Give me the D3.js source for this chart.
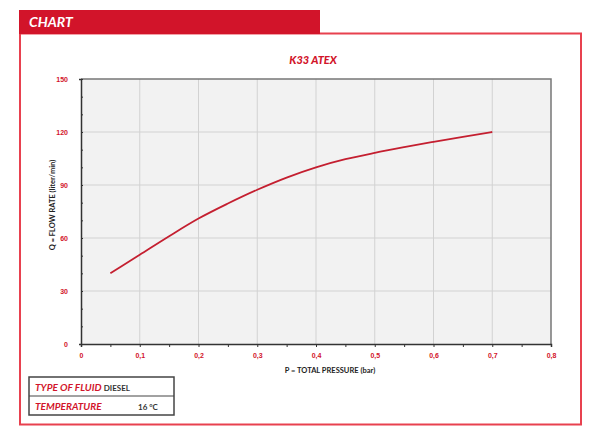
<!DOCTYPE html>
<html>
<head>
<meta charset="utf-8">
<script src="https://cdn.jsdelivr.net/npm/d3@7"></script>
<style>
  body { margin: 0; background: #fff; }
  svg { display: block; font-family: Lato, "Open Sans", sans-serif; }
</style>
</head>
<body>
<div id="chart"></div>
<script>
// pump curve K33 ATEX, pressure (bar) vs flow rate (liter/min)
var pressure = [0.05, 0.1, 0.15, 0.2, 0.25, 0.3, 0.35, 0.4, 0.45, 0.5, 0.55, 0.6, 0.65, 0.7];
var flow = [40, 50.5, 61, 71, 79.5, 87.3, 94.2, 100, 104.6, 108.2, 111.4, 114.4, 117.3, 120];

var xTicks = [0, 0.1, 0.2, 0.3, 0.4, 0.5, 0.6, 0.7, 0.8];
var yTicks = [0, 30, 60, 90, 120, 150];

var red = "#d2142a";

var svg = d3
  .select("#chart")
  .append("svg")
  .attr("width", 590)
  .attr("height", 438);

// outer frame + header tab
svg
  .append("rect")
  .attr("x", 20)
  .attr("y", 33.5)
  .attr("width", 561)
  .attr("height", 391)
  .attr("fill", "none")
  .attr("stroke", "#e8414f")
  .attr("stroke-width", 2);

svg
  .append("rect")
  .attr("x", 19)
  .attr("y", 10)
  .attr("width", 301)
  .attr("height", 24)
  .attr("fill", red);

svg
  .append("text")
  .attr("x", 29)
  .attr("y", 27)
  .attr("fill", "#fff")
  .attr("font-size", 14)
  .attr("font-weight", "bold")
  .attr("font-style", "italic")
  .text("CHART");

// plot area
var margin = { top: 79, left: 81 },
  width = 470,
  height = 265;

var x = d3.scaleLinear().domain([0, 0.8]).range([0, width]);
var y = d3.scaleLinear().domain([0, 150]).range([height, 0]);

var g = svg
  .append("g")
  .attr("transform", "translate(" + margin.left + "," + margin.top + ")");

g.append("rect")
  .attr("width", width)
  .attr("height", height)
  .attr("fill", "#f2f2f2");

// grid
g.selectAll(".vgrid")
  .data(xTicks.slice(1, -1))
  .enter()
  .append("line")
  .attr("x1", d => x(d))
  .attr("x2", d => x(d))
  .attr("y1", 0)
  .attr("y2", height)
  .attr("stroke", "#d2d2d2")
  .attr("stroke-width", 1);

g.selectAll(".hgrid")
  .data(yTicks.slice(1, -1))
  .enter()
  .append("line")
  .attr("x1", 0)
  .attr("x2", width)
  .attr("y1", d => y(d))
  .attr("y2", d => y(d))
  .attr("stroke", "#d2d2d2")
  .attr("stroke-width", 1);

// top and right border
g.append("path")
  .attr("d", "M0,0H" + width + "V" + height)
  .attr("fill", "none")
  .attr("stroke", "#777")
  .attr("stroke-width", 1.5);

// x axis
var xAxis = g
  .append("g")
  .attr("transform", "translate(0," + height + ")")
  .call(
    d3.axisBottom(x)
      .tickValues(d3.range(0, 17).map(i => i * 0.05))
      .tickSize(3)
      .tickFormat(d => (Math.round(d * 100) % 10 === 0 ? d3.format(".1f")(d).replace(".", ",") : ""))
  );
xAxis.select(".domain").attr("stroke", "#333").attr("stroke-width", 1.5);
xAxis.selectAll(".tick line").attr("stroke", "#333");
xAxis
  .selectAll(".tick text")
  .attr("dy", "1.1em")
  .attr("fill", red)
  .attr("font-size", 7)
  .attr("font-weight", "bold")
  .text(d => (d === 0 ? "0" : Math.round(d * 100) % 10 === 0 ? d3.format(".1f")(d).replace(".", ",") : ""));

// y axis
var yAxis = g
  .append("g")
  .call(
    d3.axisLeft(y)
      .tickValues(d3.range(0, 16).map(i => i * 10))
      .tickSize(2)
      .tickFormat(d => (d % 30 === 0 ? d : ""))
  );
yAxis.select(".domain").attr("stroke", "#333").attr("stroke-width", 1.5);
yAxis.selectAll(".tick line").attr("stroke", "#333").attr("transform", "translate(2,0)");
yAxis
  .selectAll(".tick text")
  .attr("x", -13)
  .attr("fill", red)
  .attr("font-size", 7)
  .attr("font-weight", "bold");

// curve
var line = d3
  .line()
  .curve(d3.curveMonotoneX)
  .x((d, i) => x(pressure[i]))
  .y(d => y(d));

g.append("path")
  .datum(flow)
  .attr("d", line)
  .attr("fill", "none")
  .attr("stroke", "#c41f30")
  .attr("stroke-width", 1.8);

// title
svg
  .append("text")
  .attr("x", 313)
  .attr("y", 64)
  .attr("text-anchor", "middle")
  .attr("fill", red)
  .attr("font-size", 11)
  .attr("font-weight", 900)
  .attr("font-style", "italic")
  .text("K33 ATEX");

// axis titles
svg
  .append("text")
  .attr("x", 330)
  .attr("y", 373)
  .attr("text-anchor", "middle")
  .attr("fill", "#222")
  .attr("font-size", 7.5)
  .attr("font-weight", "bold")
  .text("P = TOTAL PRESSURE (bar)");

svg
  .append("text")
  .attr("transform", "translate(55,205) rotate(-90)")
  .attr("text-anchor", "middle")
  .attr("fill", "#222")
  .attr("font-size", 7.5)
  .attr("font-weight", "bold")
  .text("Q = FLOW RATE (liter/min)");

// info box
var box = svg.append("g");
box
  .append("rect")
  .attr("x", 29)
  .attr("y", 377)
  .attr("width", 145)
  .attr("height", 38)
  .attr("fill", "#fff")
  .attr("stroke", "#444")
  .attr("stroke-width", 1.5);
box
  .append("line")
  .attr("x1", 29)
  .attr("x2", 174)
  .attr("y1", 396)
  .attr("y2", 396)
  .attr("stroke", "#444")
  .attr("stroke-width", 1);

var t1 = box
  .append("text")
  .attr("x", 35)
  .attr("y", 391)
  .attr("font-size", 10)
  .attr("font-weight", "bold")
  .attr("font-style", "italic")
  .attr("fill", red);
t1.append("tspan").text("TYPE OF FLUID ");
t1.append("tspan")
  .attr("fill", "#333")
  .attr("font-style", "normal")
  .attr("font-size", 8)
  .text("DIESEL");

box
  .append("text")
  .attr("x", 35)
  .attr("y", 410)
  .attr("font-size", 10)
  .attr("font-weight", "bold")
  .attr("font-style", "italic")
  .attr("fill", red)
  .text("TEMPERATURE");

box
  .append("text")
  .attr("x", 138)
  .attr("y", 410)
  .attr("font-size", 8)
  .attr("font-weight", "bold")
  .attr("fill", "#333")
  .text("16 °C");
</script>
</body>
</html>
